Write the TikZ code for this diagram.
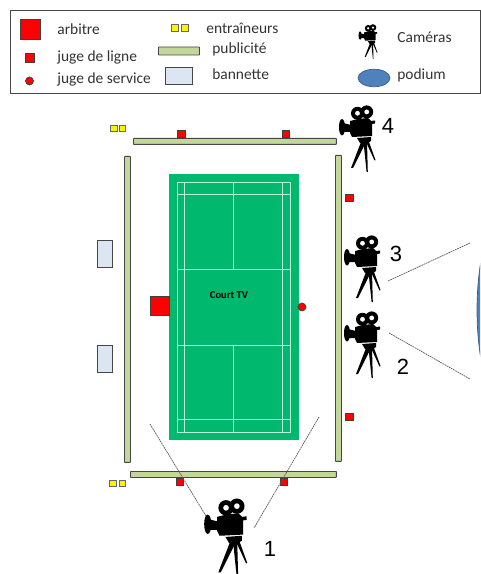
\documentclass[tikz,border=0pt]{standalone}
\usepackage{fontspec}
\setmainfont{Carlito}
\newfontfamily\numfont{Liberation Sans}
\usetikzlibrary{positioning,shapes.geometric}
\definecolor{pubgreen}{RGB}{195,214,155}
\definecolor{benchblue}{RGB}{220,230,242}
\definecolor{courtgreen}{RGB}{0,184,110}
\definecolor{podblue}{RGB}{79,129,189}
\definecolor{podedge}{RGB}{56,93,138}
\definecolor{framegray}{RGB}{70,70,70}
\tikzset{
  camera/.pic={
    \fill[black] (19.5,8.3) circle (6.5) (28.7,6.9) circle (6.5);
    \fill[white] (19.5,8.3) circle (2.4) (28.7,6.9) circle (2.4);
    \fill[black] (12,16) -- (20,14) -- (30,13) -- (33,16) -- (37,15.5) -- (37,18.5) -- (34,19)
      -- (34,31) -- (14,32) -- (12,28) -- cycle;
    \fill[black] (4,14) .. controls (0,14) and (0,30) .. (4,30.5)
      .. controls (8,30) and (8,14.5) .. (4,14) -- cycle;
    \fill[black] (5,18) -- (13,20) -- (13,27) -- (5,27) -- cycle;
    \fill[black] (19,33) -- (33,32) -- (33,36) -- (30,38) -- (22,38) -- cycle;
    \fill[black] (23,37) -- (28,37) -- (15,63) -- (13,63) -- cycle;
    \fill[black] (25.5,37) -- (29,37) -- (29.8,67) -- (28.6,67) -- cycle;
    \fill[black] (28,37) -- (31,37) -- (37.5,55) -- (36.5,55.5) -- cycle;
  }
}
\begin{document}
\begin{tikzpicture}[
    x=0.02cm,y=-0.02cm,
    board/.style={draw=framegray,fill=pubgreen,line width=0.5pt,rounded corners=0.3pt},
    bench/.style={draw=framegray,fill=benchblue,line width=0.5pt},
    redbox/.style={draw=black!75,fill=red,line width=0.4pt},
    coach/.style={draw=black!60,fill=yellow,line width=0.4pt},
    legend/.style={font=\fontsize{8.8}{10}\selectfont,text=black!80,anchor=west,inner sep=0pt},
    num/.style={font=\numfont\fontsize{12.5}{14}\selectfont,text=black,inner sep=0pt},
    sight/.style={dash pattern=on 1pt off 0.4pt,draw=black!65,line width=0.4pt},
    courtline/.style={draw=white!75!courtgreen,line width=0.5pt},
  ]
  \useasboundingbox (0,0) rectangle (480,574);
  % legend
  \node[draw=framegray,line width=0.6pt,inner sep=0pt,anchor=north west,minimum width=9.4cm,minimum height=1.66cm](frame) at (10,10){};
  \node[redbox,anchor=north west,minimum width=0.4cm,minimum height=0.4cm,inner sep=0pt](leg1) at (20,19){};
  \node[redbox,minimum width=0.19cm,minimum height=0.19cm,inner sep=0pt](leg2) at (30,58){};
  \node[circle,redbox,minimum size=0.16cm,inner sep=0pt](leg3) at (29.5,81){};
  \node[coach,minimum size=0.15cm,inner sep=0pt](leg4) at (175,28){};
  \node[coach,minimum size=0.15cm,inner sep=0pt](leg5) at (185,28){};
  \node[board,minimum width=0.82cm,minimum height=0.16cm,inner sep=0pt](leg6) at (179,51){};
  \node[bench,minimum width=0.54cm,minimum height=0.34cm,inner sep=0pt](leg7) at (179,76){};
  \node[ellipse,draw=podedge,fill=podblue,minimum width=0.64cm,minimum height=0.35cm,inner sep=0pt](leg8) at (374,78){};
  \pic at (358,24) [scale=0.52,transform shape]{camera};
  \node[legend](t1) at (57,29.5){arbitre};
  \node[legend](t2) at (57,57.5){juge de ligne};
  \node[legend](t3) at (57,79.5){juge de service};
  \node[legend](t4) at (206,28.5){entraîneurs};
  \node[legend](t5) at (212,49.5){publicité};
  \node[legend](t6) at (212,74){bannette};
  \node[legend](t7) at (397,37){Caméras};
  \node[legend](t8) at (397,75.5){podium};
  % boards
  \node[board,anchor=north west,minimum width=4.06cm,minimum height=0.12cm,inner sep=0pt](topb) at (133,138){};
  \node[board,anchor=north west,minimum width=4.12cm,minimum height=0.12cm,inner sep=0pt](botb) at (130,471){};
  \node[board,anchor=north west,minimum width=0.12cm,minimum height=6.12cm,inner sep=0pt](leftb) at (124,156){};
  \node[board,anchor=north west,minimum width=0.12cm,minimum height=6.12cm,inner sep=0pt](rightb) at (335,155){};
  \node[bench,anchor=north west,minimum width=0.3cm,minimum height=0.54cm,inner sep=0pt](ban1) at (97,240){};
  \node[bench,anchor=north west,minimum width=0.3cm,minimum height=0.54cm,inner sep=0pt](ban2) at (97,345){};
  % court
  \node[fill=courtgreen,draw=courtgreen,anchor=north west,minimum width=2.6cm,minimum height=5.3cm,inner sep=0pt](court) at (168.5,174){};
  \draw[courtline] (177,182) rectangle (290,432);
  \draw[courtline] (184,182) -- (184,432) (282,182) -- (282,432);
  \draw[courtline] (177,194) -- (290,194) (177,269) -- (290,269);
  \draw[courtline] (177,345) -- (290,345) (177,419) -- (290,419);
  \draw[courtline] (233,182) -- (233,269) (233,345) -- (233,432);
  \node[font=\fontsize{6}{7}\selectfont\bfseries,inner sep=0pt](ctv) at (229,295){Court TV};
  % officials
  \node[redbox,minimum size=0.38cm,inner sep=0pt](arb) at (159.5,306){};
  \node[circle,redbox,minimum size=0.16cm,inner sep=0pt](serv) at (302,307){};
  \foreach \n/\x/\y in {a/181.5/134,b/286/134,c/349.5/198,d/349.5/417,e/180/482,f/284/482}
    \node[redbox,minimum size=0.15cm,inner sep=0pt](lj\n) at (\x,\y){};
  \foreach \n/\x/\y in {a/114/128.5,b/122.5/128.5,c/113/483.5,d/122.5/483.5}
    \node[coach,minimum size=0.13cm,inner sep=0pt](co\n) at (\x,\y){};
  % cameras
  \pic at (203,498) [scale=1.18,transform shape]{camera};
  \pic at (338,105) {camera};
  \pic at (343,235) {camera};
  \pic at (343,311) {camera};
  \node[num](n1) at (270,549){1};
  \node[num](n2) at (403,367){2};
  \node[num](n3) at (396,254){3};
  \node[num](n4) at (388,126){4};
  % podium
  \begin{scope}
    \clip (0,0) rectangle (480,574);
    \node[ellipse,draw=podedge,fill=podblue,minimum width=2.4cm,minimum height=5.52cm,inner sep=0pt](pod) at (537,310){};
  \end{scope}
  % sight lines
  \coordinate(s1a) at (150,424);
  \coordinate(s1b) at (206,516);
  \coordinate(s1c) at (319,417);
  \coordinate(s1d) at (254,528);
  \coordinate(s2a) at (389,333);
  \coordinate(s2b) at (470,379);
  \coordinate(s3a) at (388,281);
  \coordinate(s3b) at (470,243);
  \draw[sight](s1a)--(s1b);
  \draw[sight](s1c)--(s1d);
  \draw[sight](s2a)--(s2b);
  \draw[sight](s3a)--(s3b);
\end{tikzpicture}
\end{document}
